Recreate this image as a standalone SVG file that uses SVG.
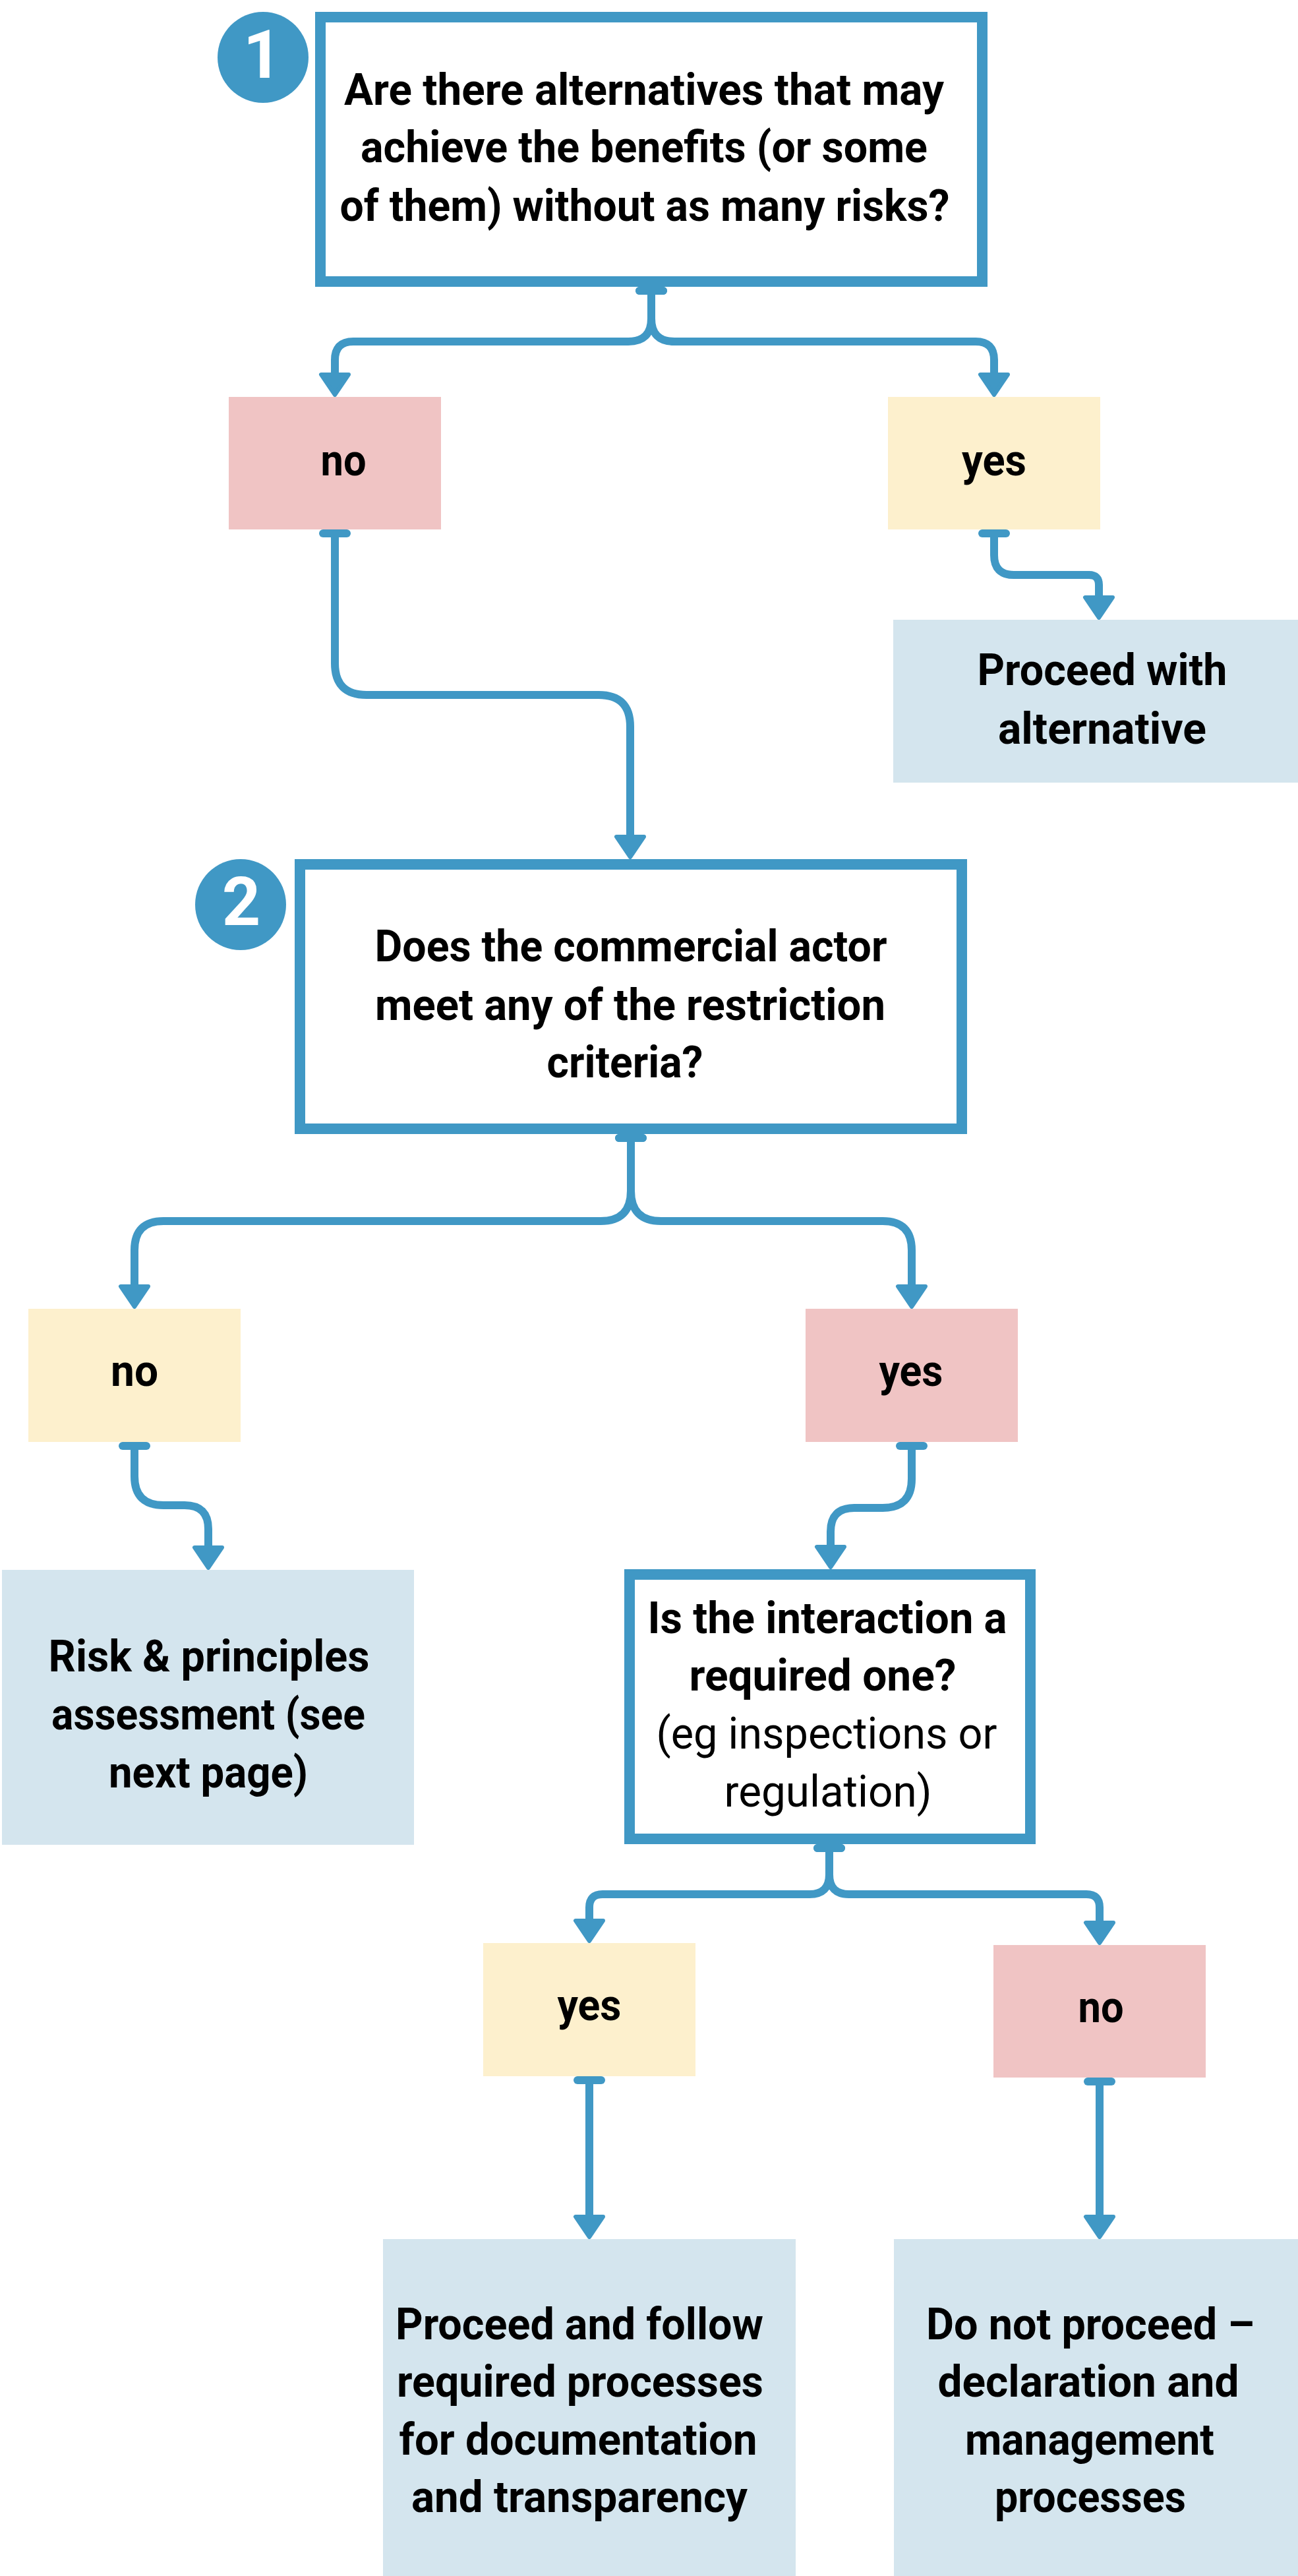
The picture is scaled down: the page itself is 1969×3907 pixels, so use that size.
<svg xmlns="http://www.w3.org/2000/svg" width="1969" height="3907" viewBox="0 0 1969 3907">
<defs>
<style>
.q{fill:#fff;stroke:#4098c5;stroke-width:16}
.pink{fill:#f0c4c4}
.yel{fill:#fdf0cd}
.blu{fill:#d4e5ee}
.num{fill:#4098c5}
text{font-family:Roboto,"Noto Sans","Liberation Sans",sans-serif;font-size:66px;fill:#000;text-anchor:middle}
.b{font-weight:700}
.r{font-weight:400}
.n{fill:#fff;font-size:102px;font-weight:700}
.c{fill:none;stroke:#4098c5;stroke-width:12;marker-start:url(#cap);marker-end:url(#arr)}
</style>
<marker id="arr" markerUnits="userSpaceOnUse" orient="auto" refX="0" refY="0" markerWidth="40" markerHeight="50" overflow="visible">
<path d="M2,-21 L33,0 L2,21 Z" fill="#4098c5" stroke="#4098c5" stroke-width="6" stroke-linejoin="round"/>
</marker>
<marker id="cap" markerUnits="userSpaceOnUse" orient="auto" refX="0" refY="0" markerWidth="12" markerHeight="48" overflow="visible">
<rect x="-6" y="-24" width="12" height="48" rx="6" fill="#4098c5"/>
</marker>
</defs>
<rect width="1969" height="3907" fill="#fff"/>

<g id="connectors">
<path class="c" d="M988,441 V483 Q988,518 953,518 H536 Q508,518 508,546 V566"/>
<path class="c" d="M988,441 V483 Q988,518 1023,518 H1480 Q1508,518 1508,546 V566"/>
<path class="c" d="M1508,809 V842 Q1508,872 1538,872 H1652 Q1667,872 1667,887 V904"/>
<path class="c" d="M508,809 V1006 Q508,1054 556,1054 H908 Q956,1054 956,1102 V1267"/>
<path class="c" d="M957,1726 V1806 Q957,1852 911,1852 H248 Q204,1852 204,1896 V1949"/>
<path class="c" d="M957,1726 V1806 Q957,1852 1003,1852 H1339 Q1383,1852 1383,1896 V1949"/>
<path class="c" d="M204,2193 V2239 Q204,2283 248,2283 H280 Q316,2283 316,2319 V2345"/>
<path class="c" d="M1383,2193 V2243 Q1383,2287 1339,2287 H1296 Q1260,2287 1260,2323 V2344"/>
<path class="c" d="M1258,2803 V2843 Q1258,2873 1228,2873 H914 Q894,2873 894,2893 V2911"/>
<path class="c" d="M1258,2803 V2843 Q1258,2873 1288,2873 H1648 Q1668,2873 1668,2893 V2914"/>
<path class="c" d="M894,3155 V3360"/>
<path class="c" d="M1668,3157 V3360"/>
</g>

<g id="badge1">
<circle class="num" cx="399" cy="87" r="69"/>
<text class="n" x="398" y="118">1</text>
</g>
<g id="q1">
<rect class="q" x="486" y="26" width="1004" height="401"/>
<text class="b" x="977" y="159" textLength="910" lengthAdjust="spacingAndGlyphs">Are there alternatives that may</text>
<text class="b" x="977" y="246" textLength="860" lengthAdjust="spacingAndGlyphs">achieve the benefits (or some</text>
<text class="b" x="978" y="335" textLength="925" lengthAdjust="spacingAndGlyphs">of them) without as many risks?</text>
</g>
<g id="no1">
<rect class="pink" x="347" y="602" width="322" height="201"/>
<text class="b" x="521" y="721" textLength="69" lengthAdjust="spacingAndGlyphs">no</text>
</g>
<g id="yes1">
<rect class="yel" x="1347" y="602" width="322" height="201"/>
<text class="b" x="1508" y="721" textLength="98" lengthAdjust="spacingAndGlyphs">yes</text>
</g>
<g id="alt">
<rect class="blu" x="1355" y="940" width="614" height="247"/>
<text class="b" x="1672" y="1039" textLength="379" lengthAdjust="spacingAndGlyphs">Proceed with</text>
<text class="b" x="1672" y="1128" textLength="316" lengthAdjust="spacingAndGlyphs">alternative</text>
</g>

<g id="badge2">
<circle class="num" cx="365" cy="1372" r="69"/>
<text class="n" x="366" y="1403">2</text>
</g>
<g id="q2">
<rect class="q" x="455" y="1311" width="1004" height="401"/>
<text class="b" x="957" y="1458" textLength="777" lengthAdjust="spacingAndGlyphs">Does the commercial actor</text>
<text class="b" x="956" y="1547" textLength="774" lengthAdjust="spacingAndGlyphs">meet any of the restriction</text>
<text class="b" x="948" y="1634" textLength="237" lengthAdjust="spacingAndGlyphs">criteria?</text>
</g>
<g id="no2">
<rect class="yel" x="43" y="1985" width="322" height="202"/>
<text class="b" x="204" y="2102" textLength="72" lengthAdjust="spacingAndGlyphs">no</text>
</g>
<g id="yes2">
<rect class="pink" x="1222" y="1985" width="322" height="202"/>
<text class="b" x="1382" y="2102" textLength="97" lengthAdjust="spacingAndGlyphs">yes</text>
</g>
<g id="risk">
<rect class="blu" x="3" y="2381" width="625" height="417"/>
<text class="b" x="317" y="2535" textLength="487" lengthAdjust="spacingAndGlyphs">Risk &amp; principles</text>
<text class="b" x="316" y="2623" textLength="476" lengthAdjust="spacingAndGlyphs">assessment (see</text>
<text class="b" x="316" y="2711" textLength="302" lengthAdjust="spacingAndGlyphs">next page)</text>
</g>
<g id="q3">
<rect class="q" x="955" y="2388" width="608" height="401"/>
<text class="b" x="1255" y="2477" textLength="545" lengthAdjust="spacingAndGlyphs">Is the interaction a</text>
<text class="b" x="1248" y="2564" textLength="405" lengthAdjust="spacingAndGlyphs">required one?</text>
<text class="r" x="1254" y="2652" textLength="517" lengthAdjust="spacingAndGlyphs">(eg inspections or</text>
<text class="r" x="1256" y="2740" textLength="315" lengthAdjust="spacingAndGlyphs">regulation)</text>
</g>
<g id="yes3">
<rect class="yel" x="733" y="2947" width="322" height="202"/>
<text class="b" x="894" y="3064" textLength="97" lengthAdjust="spacingAndGlyphs">yes</text>
</g>
<g id="no3">
<rect class="pink" x="1507" y="2950" width="322" height="201"/>
<text class="b" x="1670" y="3067" textLength="69" lengthAdjust="spacingAndGlyphs">no</text>
</g>
<g id="proceed">
<rect class="blu" x="581" y="3396" width="626" height="511"/>
<text class="b" x="879" y="3548" textLength="558" lengthAdjust="spacingAndGlyphs">Proceed and follow</text>
<text class="b" x="880" y="3635" textLength="556" lengthAdjust="spacingAndGlyphs">required processes</text>
<text class="b" x="877" y="3723" textLength="543" lengthAdjust="spacingAndGlyphs">for documentation</text>
<text class="b" x="879" y="3810" textLength="510" lengthAdjust="spacingAndGlyphs">and transparency</text>
</g>
<g id="stop">
<rect class="blu" x="1356" y="3396" width="613" height="511"/>
<text class="b" x="1654" y="3548" textLength="498" lengthAdjust="spacingAndGlyphs">Do not proceed –</text>
<text class="b" x="1651" y="3635" textLength="457" lengthAdjust="spacingAndGlyphs">declaration and</text>
<text class="b" x="1653" y="3723" textLength="378" lengthAdjust="spacingAndGlyphs">management</text>
<text class="b" x="1654" y="3810" textLength="290" lengthAdjust="spacingAndGlyphs">processes</text>
</g>
</svg>
